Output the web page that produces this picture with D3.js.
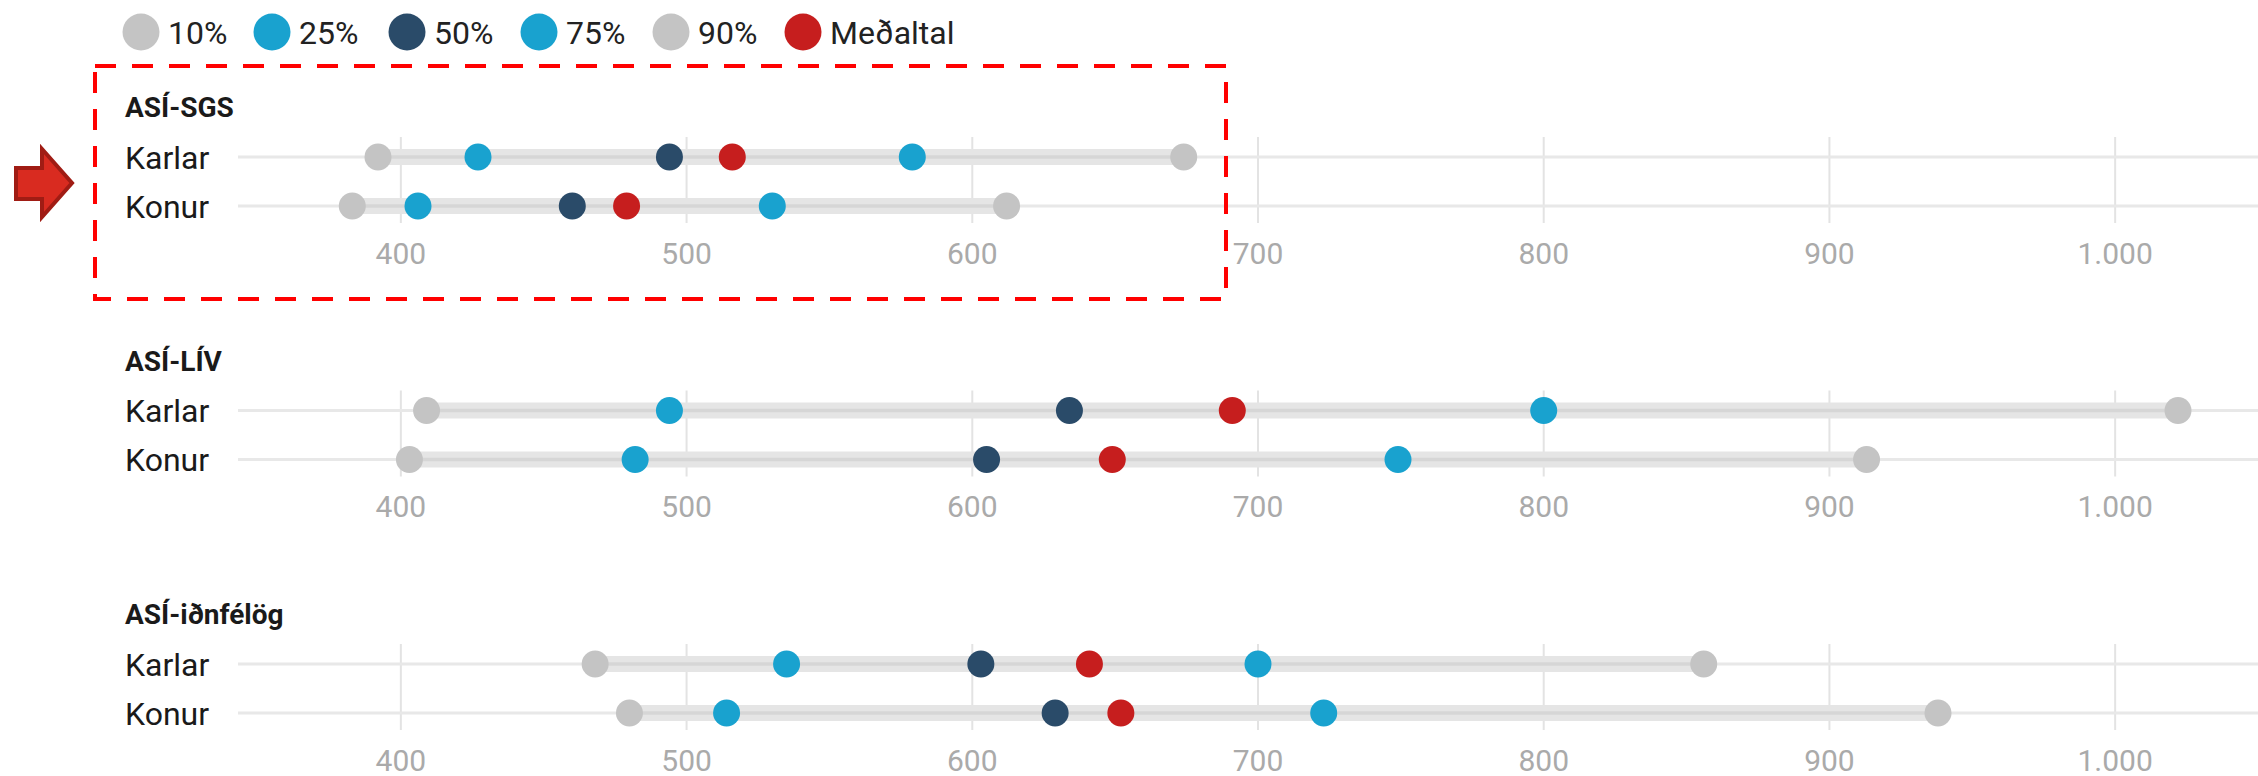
<!DOCTYPE html>
<html>
<head>
<meta charset="utf-8">
<script src="https://cdn.jsdelivr.net/npm/d3@7"></script>
<style>
  html, body { margin: 0; padding: 0; background: #fff; }
  svg { display: block; font-family: Roboto, "Noto Sans", sans-serif; }
</style>
</head>
<body>
<svg id="chart" width="2258" height="776"></svg>
<script>
// ---- data ----
const groups = ["ASÍ-SGS", "ASÍ-LÍV", "ASÍ-iðnfélög"];
const rows = ["Karlar", "Konur"];
const seriesNames = ["10%", "25%", "50%", "75%", "90%", "Meðaltal"];
const seriesColors = ["#c4c4c4", "#19a2cf", "#2a4b69", "#19a2cf", "#c4c4c4", "#c61e1e"];
// values per group -> [Karlar, Konur], each [p10, p25, p50, mean, p75, p90]
const sgsValues = [[392, 427, 494, 516, 579, 674], [383, 406, 460, 479, 530, 612]];
const livValues = [[409, 494, 634, 691, 800, 1022], [403, 482, 605, 649, 749, 913]];
const idnValues = [[468, 535, 603, 641, 700, 856], [480, 514, 629, 652, 723, 938]];
const tickValues = [400, 500, 600, 700, 800, 900, 1000];
const xDomain = [343, 1050];

const allValues = [sgsValues, livValues, idnValues];
// index of each legend series inside a row array: p10, p25, p50, p75, p90, mean
const seriesIndex = [0, 1, 2, 4, 5, 3];

const svg = d3.select("#chart");
const x = d3.scaleLinear().domain(xDomain).range([238, 2258]);
const isl = d3.formatLocale({decimal: ",", thousands: ".", grouping: [3], currency: ["", ""]});
const fmt = isl.format(",");

const panelY = d3.scaleLinear().domain([0, 1]).range([157, 410.5]);
const rowGap = 49;

// ---- legend ----
const legend = svg.append("g");
const legX = [141, 272, 407, 539, 671, 803];
seriesNames.forEach((name, i) => {
  const g = legend.append("g").attr("transform", `translate(${legX[i]},32)`);
  g.append("circle").attr("r", 18.5).attr("fill", seriesColors[i]);
  g.append("text").attr("x", 27).attr("y", 0).attr("dy", "0.36em")
    .attr("font-size", 32).attr("fill", "#222").text(name);
});

// ---- panels ----
groups.forEach((gname, gi) => {
  const yK = panelY(gi);
  const g = svg.append("g");
  const rowY = rows.map((r, ri) => yK + ri * rowGap);

  // gridlines
  g.selectAll("line.grid").data(tickValues).enter().append("line")
    .attr("x1", d => x(d)).attr("x2", d => x(d))
    .attr("y1", rowY[0] - 20).attr("y2", rowY[1] + 17)
    .attr("stroke", "#e3e3e3").attr("stroke-width", 2);

  // row baselines
  g.selectAll("line.row").data(rowY).enter().append("line")
    .attr("x1", x.range()[0]).attr("x2", x.range()[1])
    .attr("y1", d => d).attr("y2", d => d)
    .attr("stroke", "#e8e8e8").attr("stroke-width", 3);

  // title
  g.append("text").attr("x", 125).attr("y", yK - 50).attr("dy", "0.36em")
    .attr("font-size", 28).attr("font-weight", "bold").attr("fill", "#1a1a1a").text(gname);

  rows.forEach((rname, ri) => {
    const vals = allValues[gi][ri];
    const y = rowY[ri];
    g.append("text").attr("x", 125).attr("y", y).attr("dy", "0.36em")
      .attr("font-size", 32).attr("fill", "#1a1a1a").text(rname);
    // range band p10..p90
    g.append("rect")
      .attr("x", x(vals[0])).attr("width", x(vals[5]) - x(vals[0]))
      .attr("y", y - 8).attr("height", 16).attr("fill", "#e5e5e5");
    g.append("line")
      .attr("x1", x(vals[0])).attr("x2", x(vals[5]))
      .attr("y1", y).attr("y2", y)
      .attr("stroke", "#d6d6d6").attr("stroke-width", 3.5);
    // dots
    g.selectAll(null).data(seriesIndex.map((vi, si) => ({v: vals[vi], c: seriesColors[si]})))
      .enter().append("circle")
      .attr("cx", d => x(d.v)).attr("cy", y).attr("r", 13.5).attr("fill", d => d.c);
  });

  // tick labels
  g.selectAll("text.tick").data(tickValues).enter().append("text")
    .attr("x", d => x(d)).attr("y", rowY[1] + 47).attr("dy", "0.36em")
    .attr("text-anchor", "middle").attr("font-size", 30).attr("fill", "#aaaaaa")
    .text(d => fmt(d));
});

// ---- highlight box ----
svg.append("rect").attr("x", 95).attr("y", 66).attr("width", 1131).attr("height", 233)
  .attr("fill", "none").attr("stroke", "#ff0000").attr("stroke-width", 4)
  .attr("stroke-dasharray", "21 16");

// ---- arrow ----
svg.append("path")
  .attr("d", "M16,168 L42,168 L42,149 L72,183 L42,217 L42,199 L16,199 Z")
  .attr("fill", "#d92b20").attr("stroke", "#a01c14").attr("stroke-width", 4)
  .attr("stroke-linejoin", "miter");
</script>
</body>
</html>
